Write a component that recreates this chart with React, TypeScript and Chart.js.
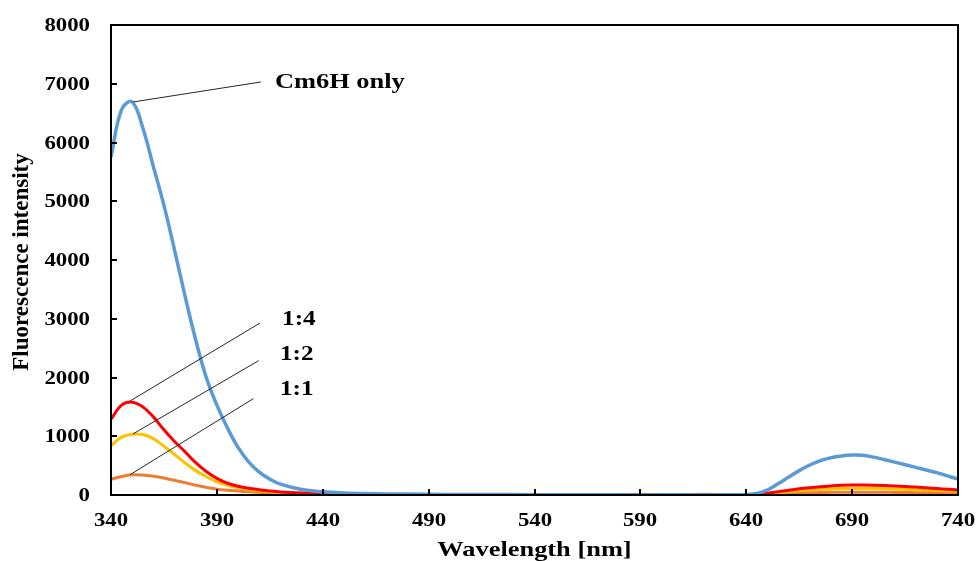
import React, { useEffect, useRef } from "react";
import { Chart, registerables } from "chart.js";

Chart.register(...registerables);

// ---- data ----
const wavelengths = [
  340, 345, 350, 355, 360, 365, 370, 375, 380, 385, 390, 395, 400, 405, 410, 415, 420,
  430, 440, 450, 460, 480, 500, 520, 540, 560, 580, 600, 610, 620, 630, 640, 645, 650,
  655, 660, 665, 670, 675, 680, 685, 690, 695, 700, 705, 710, 715, 720, 725, 730, 735, 740,
];

const cm6hOnly = [
  5750, 6560, 6690, 6250, 5590, 4930, 4170, 3380, 2640, 2000, 1530, 1140, 810, 565, 390, 270, 185,
  95, 55, 35, 25, 15, 10, 8, 6, 5, 5, 5, 5, 5, 5, 8, 25, 85,
  190, 305, 415, 510, 585, 635, 665, 680, 675, 645, 605, 560, 515, 470, 425, 380, 325, 270,
];

const ratio14 = [
  1290, 1530, 1580, 1500, 1330, 1110, 910, 735, 550, 400, 283, 200, 150, 115, 90, 68, 52,
  35, 25, 18, 12, 8, 5, 5, 5, 5, 5, 5, 5, 5, 5, 5, 12, 30,
  55, 80, 105, 125, 142, 155, 165, 170, 170, 168, 163, 155, 145, 135, 122, 110, 98, 85,
];

const ratio12 = [
  840, 985, 1035, 1030, 960, 830, 690, 545, 415, 310, 225, 165, 125, 95, 72, 55, 42,
  28, 18, 12, 8, 5, 4, 4, 4, 4, 4, 4, 4, 4, 4, 3, 8, 20,
  38, 55, 72, 85, 96, 104, 110, 112, 112, 110, 107, 102, 96, 90, 82, 75, 68, 60,
];

const ratio11 = [
  267, 315, 343, 340, 320, 290, 250, 210, 165, 130, 100, 82, 68, 55, 44, 35, 27,
  17, 11, 8, 5, 4, 3, 3, 3, 3, 3, 3, 5, 14, 4, 2, 5, 10,
  18, 25, 32, 38, 42, 45, 47, 48, 48, 47, 46, 44, 42, 40, 37, 34, 31, 28,
];

const seriesNames = ["Cm6H only", "1:4", "1:2", "1:1"];

// callouts in data coordinates: [wavelength, intensity]
const calloutLabels = ["Cm6H only", "1:4", "1:2", "1:1"];
const calloutFrom = [[350.4, 6690], [349.0, 1600], [350.4, 1040], [349.0, 346]];
const calloutTo = [[410.8, 7030], [410.4, 2928], [409.7, 2286], [407.2, 1639]];
const calloutText = [[417.4, 7030], [420.8, 2980], [419.8, 2383], [419.8, 1787]];

const xTitle = "Wavelength [nm]";
const yTitle = "Fluorescence intensity";

// ---- styling ----
const FONT = '"Liberation Serif", "Times New Roman", serif';
const STRETCH = 1.2;

function drawText(
  ctx: CanvasRenderingContext2D,
  text: string,
  x: number,
  y: number,
  size: number,
  align: CanvasTextAlign,
  stretch = STRETCH
) {
  ctx.save();
  ctx.translate(x, y);
  ctx.scale(stretch, 1);
  ctx.font = `bold ${size}px ${FONT}`;
  ctx.fillStyle = "#000";
  ctx.textAlign = align;
  ctx.textBaseline = "middle";
  ctx.fillText(text, 0, 0);
  ctx.restore();
}

const excelFrame = {
  id: "excelFrame",
  afterDraw(chart: any) {
    const ctx: CanvasRenderingContext2D = chart.ctx;
    const { left, right, top, bottom } = chart.chartArea;
    const xs = chart.scales.x;
    const ys = chart.scales.y;

    ctx.save();
    // callout lines
    ctx.strokeStyle = "#262626";
    ctx.lineWidth = 1;
    for (let i = 0; i < calloutLabels.length; i++) {
      ctx.beginPath();
      ctx.moveTo(xs.getPixelForValue(calloutFrom[i][0]), ys.getPixelForValue(calloutFrom[i][1]));
      ctx.lineTo(xs.getPixelForValue(calloutTo[i][0]), ys.getPixelForValue(calloutTo[i][1]));
      ctx.stroke();
    }
    for (let i = 0; i < calloutLabels.length; i++) {
      drawText(
        ctx,
        calloutLabels[i],
        xs.getPixelForValue(calloutText[i][0]),
        ys.getPixelForValue(calloutText[i][1]),
        i === 0 ? 22 : 21,
        "left"
      );
    }

    // frame
    ctx.strokeStyle = "#000";
    ctx.lineWidth = 2;
    ctx.strokeRect(left, top, right - left, bottom - top);

    // inside tick marks + labels
    ys.ticks.forEach((t: any) => {
      const y = Math.round(ys.getPixelForValue(t.value));
      ctx.beginPath();
      ctx.moveTo(left, y);
      ctx.lineTo(left + 6, y);
      ctx.stroke();
      drawText(ctx, String(t.value), left - 21, y + 1, 19, "right");
    });
    xs.ticks.forEach((t: any) => {
      const x = Math.round(xs.getPixelForValue(t.value));
      ctx.beginPath();
      ctx.moveTo(x, bottom);
      ctx.lineTo(x, bottom - 6);
      ctx.stroke();
      drawText(ctx, String(t.value), x, bottom + 26, 19, "center");
    });

    // axis titles
    drawText(ctx, xTitle, (left + right) / 2, bottom + 55, 22, "center");
    ctx.save();
    ctx.translate(22, (top + bottom) / 2 + 2);
    ctx.rotate(-Math.PI / 2);
    ctx.font = `bold 23px ${FONT}`;
    ctx.fillStyle = "#000";
    ctx.textAlign = "center";
    ctx.textBaseline = "middle";
    ctx.fillText(yTitle, 0, 0);
    ctx.restore();

    ctx.restore();
  },
};

const toPoints = (vals: number[]) => vals.map((v, i) => ({ x: wavelengths[i], y: v }));

export default function App() {
  const ref = useRef<HTMLCanvasElement | null>(null);

  useEffect(() => {
    document.body.style.margin = "0";
    if (!ref.current) return;
    const chart = new Chart(ref.current, {
      type: "line",
      data: {
        datasets: [
          { label: seriesNames[0], data: toPoints(cm6hOnly), borderColor: "#5B9BD5", borderWidth: 3.5, order: 0 },
          { label: seriesNames[1], data: toPoints(ratio14), borderColor: "#FF0000", borderWidth: 3, order: 1 },
          { label: seriesNames[2], data: toPoints(ratio12), borderColor: "#FFC000", borderWidth: 3, order: 2 },
          { label: seriesNames[3], data: toPoints(ratio11), borderColor: "#ED7D31", borderWidth: 3, order: 3 },
        ],
      },
      options: {
        responsive: false,
        animation: false,
        devicePixelRatio: 1,
        layout: { padding: { left: 0, right: 21, top: 25, bottom: 0 } },
        plugins: { legend: { display: false }, tooltip: { enabled: false } },
        elements: {
          point: { radius: 0, hoverRadius: 0 },
          line: { tension: 0.4, fill: false, capBezierPoints: true },
        },
        scales: {
          x: {
            type: "linear",
            min: 340,
            max: 740,
            ticks: { stepSize: 50, display: false },
            grid: { display: false },
            border: { display: false },
            afterFit(s: any) {
              s.height = 66;
            },
          },
          y: {
            min: 0,
            max: 8000,
            ticks: { stepSize: 1000, display: false },
            grid: { display: false },
            border: { display: false },
            afterFit(s: any) {
              s.width = 111;
            },
          },
        },
      },
      plugins: [excelFrame],
    } as any);
    return () => chart.destroy();
  }, []);

  return (
    <div style={{ width: 979, height: 561 }}>
      <canvas ref={ref} width={979} height={561} style={{ display: "block" }} />
    </div>
  );
}
